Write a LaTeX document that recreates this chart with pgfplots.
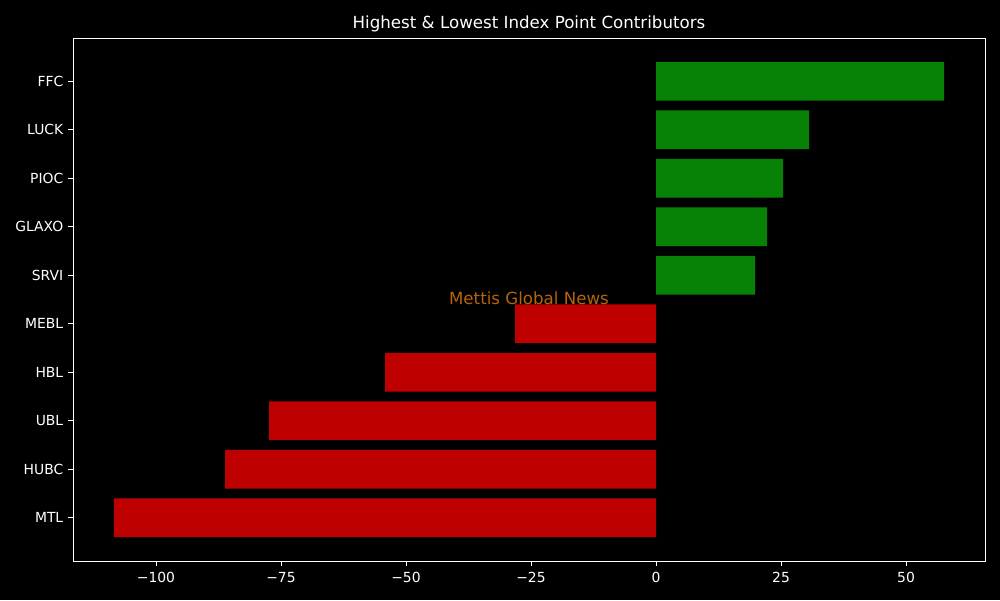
\documentclass[border=0pt]{standalone}
\usepackage{pgfplots}
\pgfplotsset{compat=1.18}
\usepackage{fontspec}
\setmainfont{DejaVu Sans}
\definecolor{bgc}{HTML}{000000}
\definecolor{posc}{HTML}{078207}
\definecolor{negc}{HTML}{BF0000}
\definecolor{wmc}{HTML}{B5640A}
\begin{document}
\begin{tikzpicture}[font=\fontsize{10}{12}\selectfont]
\fill[bgc] (-52.56pt,-28.08pt) rectangle (667.44pt,403.92pt);
\begin{axis}[
  at={(0pt,0pt)}, anchor=south west,
  scale only axis, width=656.64pt, height=376.56pt,
  xmin=-116.6, xmax=65.8, ymin=-0.89, ymax=9.89,
  xbar, bar width=0.8, bar shift=0pt,
  axis line style={white, line width=0.7pt},
  tick style={white, line width=0.7pt},
  major tick length=3.5pt,
  tick align=outside,
  xtick pos=bottom, ytick pos=left,
  xtick={-100,-75,-50,-25,0,25,50},
  xticklabels={−100,−75,−50,−25,0,25,50},
  ytick={0,...,9},
  yticklabels={MTL,HUBC,UBL,HBL,MEBL,SRVI,GLAXO,PIOC,LUCK,FFC},
  ticklabel style={text=white, font=\fontsize{10}{12}\selectfont},
  xticklabel style={yshift=-1pt},
  title={Highest \& Lowest Index Point Contributors},
  title style={text=white, font=\fontsize{12}{14}\selectfont, yshift=-5pt},
  axis background/.style={fill=black},
]
\addplot[fill=posc, draw=none] coordinates {(57.6,9) (30.6,8) (25.4,7) (22.2,6) (19.8,5)};
\addplot[fill=negc, draw=none] coordinates {(-28.2,4) (-54.2,3) (-77.4,2) (-86.2,1) (-108.4,0)};
\node[text=wmc, font=\fontsize{12}{14}\selectfont] at (axis cs:-25.4,4.53) {Mettis Global News};
\end{axis}
\end{tikzpicture}
\end{document}
